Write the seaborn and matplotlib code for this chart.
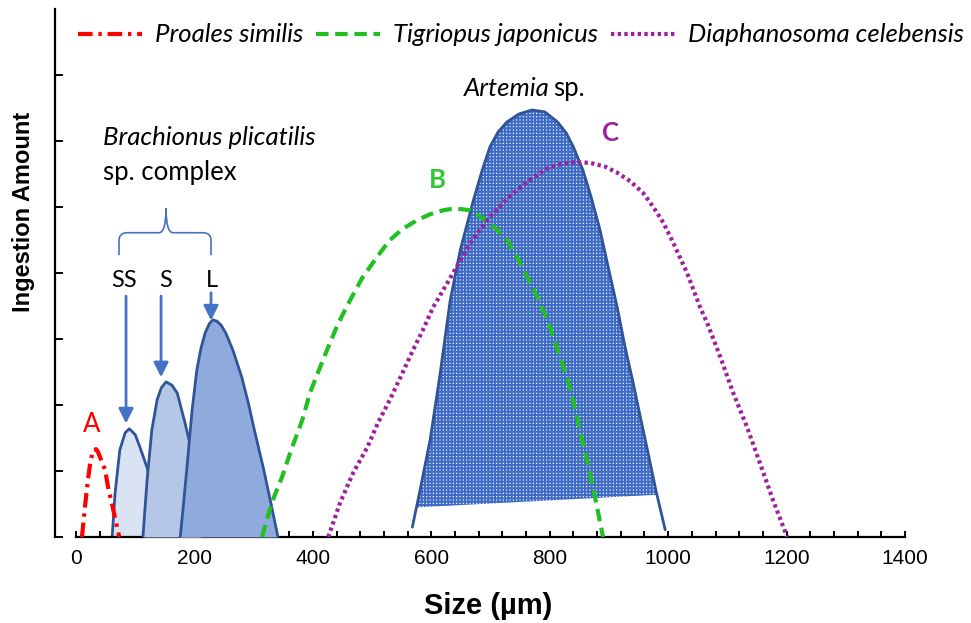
import numpy as np
import matplotlib
matplotlib.use("Agg")
import matplotlib.pyplot as plt
import seaborn as sns
from matplotlib.lines import Line2D
from matplotlib.path import Path
from matplotlib.patches import PathPatch
from matplotlib.ticker import MultipleLocator

# size (µm) and ingestion amount (arbitrary units)
proales_x = [10, 15, 20, 24, 29, 34, 37, 49, 54, 62, 73]
proales_y = [0, 0.45, 0.86, 1.12, 1.32, 1.33, 1.29, 1.02, 0.76, 0.45, 0]

ss_x = [61, 66, 74, 83, 90, 100, 108, 120, 130, 142]
ss_y = [0, 0.67, 1.32, 1.58, 1.64, 1.55, 1.36, 1.05, 0.71, 0]

s_x = [113, 120, 128, 137, 144, 152, 162, 171, 184, 193, 210]
s_y = [0, 0.86, 1.62, 2.08, 2.26, 2.35, 2.30, 2.18, 1.73, 1.39, 0]

l_x = [176, 181, 188, 196, 204, 211, 218, 225, 231, 238, 245, 253, 265, 280, 291, 302, 316, 329, 341]
l_y = [0, 0.45, 1.12, 1.92, 2.53, 2.86, 3.09, 3.23, 3.29, 3.27, 3.21, 3.09, 2.83, 2.42, 2.03, 1.59, 1.06, 0.52, 0]

tigriopus_x = [314, 331, 348, 365, 382, 395, 409, 426, 443, 463, 483, 508, 530, 552, 576, 598, 620,
               640, 666, 699, 728, 745, 762, 779, 796, 807, 823, 835, 846, 856, 868, 880, 890]
tigriopus_y = [0, 0.53, 0.91, 1.36, 1.77, 2.18, 2.50, 2.88, 3.24, 3.59, 3.92, 4.24, 4.50, 4.67, 4.80, 4.89, 4.95,
               4.98, 4.95, 4.76, 4.50, 4.24, 3.94, 3.64, 3.29, 3.00, 2.58, 2.23, 1.82, 1.42, 0.97, 0.45, 0]

diaph_x = [426, 446, 468, 492, 510, 530, 551, 569, 586, 603, 622, 640, 666, 696, 733, 772, 801,
           835, 868, 894, 914, 936, 958, 975, 992, 1009, 1032, 1054, 1066, 1088, 1110, 1133, 1155, 1177, 1201]
diaph_y = [0, 0.52, 0.97, 1.36, 1.73, 2.08, 2.48, 2.83, 3.14, 3.48, 3.77, 4.05, 4.45, 4.82, 5.17, 5.45, 5.61,
           5.68, 5.67, 5.61, 5.52, 5.39, 5.21, 5.00, 4.76, 4.45, 4.00, 3.48, 3.24, 2.73, 2.18, 1.67, 1.12, 0.56, 0]

artemia_x = [568, 581, 598, 615, 632, 649, 671, 686, 699, 713, 728, 748, 770, 792, 813, 828, 840,
             856, 870, 885, 899, 914, 927, 941, 953, 965, 980, 995]
artemia_y = [0.15, 0.71, 1.47, 2.48, 3.59, 4.35, 5.10, 5.56, 5.91, 6.14, 6.29, 6.41, 6.47, 6.44, 6.29, 6.12, 5.91,
             5.56, 5.15, 4.65, 4.08, 3.48, 2.89, 2.33, 1.82, 1.32, 0.68, 0.11]
# lower edge of the shaded part of the Artemia curve
artemia_floor_x = [578, 980]
artemia_floor_y = [0.45, 0.64]

x_ticks = [0, 200, 400, 600, 800, 1000, 1200, 1400]

RED = "#ff0000"
GREEN = "#22bf22"
PURPLE = "#a0209f"
EDGE = "#2f5597"
ARROW = "#4472c4"
BODY = "Lato"
FS = 18.5

sns.set_theme(style="ticks")
plt.rcParams["font.family"] = ["Liberation Sans", "DejaVu Sans"]
plt.rcParams["hatch.linewidth"] = 1.4
plt.rcParams["text.color"] = "black"
plt.rcParams["axes.labelcolor"] = "black"
plt.rcParams["xtick.labelcolor"] = "black"

fig = plt.figure(figsize=(9.71, 6.23), dpi=100)
ax = fig.add_axes([55 / 971, 1 - 537 / 623, 850 / 971, 528 / 623])

# Brachionus strains, drawn back to front so each covers the previous one
fills = [(ss_x, ss_y, "#dae3f3"), (s_x, s_y, "#b4c7e7"), (l_x, l_y, "#8faadc")]
z = 2
for xs, ys, fc in fills:
    ax.fill_between(xs, ys, 0, color=fc, linewidth=0, zorder=z)
    sns.lineplot(x=xs, y=ys, ax=ax, color=EDGE, linewidth=2, zorder=z + 0.5, legend=False)
    z += 1

# Artemia sp.
art_x = np.array(artemia_x, dtype=float)
art_y = np.array(artemia_y, dtype=float)
floor = np.interp(art_x, artemia_floor_x, artemia_floor_y)
ax.fill_between(art_x, art_y, floor, where=art_y >= floor, interpolate=True,
                facecolor="#e6edf9", edgecolor="#3d6bc6", hatch="+++++", linewidth=0, zorder=5)
sns.lineplot(x=artemia_x, y=artemia_y, ax=ax, color=EDGE, linewidth=2, zorder=6, legend=False)

red_ls = (0, (3.5, 1.4, 0.8, 1.4))
green_ls = (0, (3, 1.6))
purple_ls = (0, (0.8, 0.8))

sns.lineplot(x=proales_x, y=proales_y, ax=ax, color=RED, linewidth=3, linestyle=red_ls, zorder=7, legend=False)
sns.lineplot(x=tigriopus_x, y=tigriopus_y, ax=ax, color=GREEN, linewidth=3, linestyle=green_ls, zorder=7, legend=False)
sns.lineplot(x=diaph_x, y=diaph_y, ax=ax, color=PURPLE, linewidth=3, linestyle=purple_ls, zorder=7, legend=False)

# axes styling
ax.set_xlim(-35.5, 1400)
ax.set_ylim(0, 8)
ax.spines[["top", "right"]].set_visible(False)
ax.spines["bottom"].set_bounds(0, 1400)
for sp in ax.spines.values():
    sp.set_linewidth(1.6)
    sp.set_color("black")
ax.set_xticks(x_ticks)
ax.xaxis.set_minor_locator(MultipleLocator(40))
ax.set_yticks(range(8))
ax.set_yticklabels([])
ax.tick_params(axis="x", which="both", direction="in", length=4, width=1.4, color="black",
               labelsize=15, pad=9, labelcolor="black")
ax.tick_params(axis="y", direction="in", length=6, width=1.4, color="black")
ax.set_xlabel("Size (µm)", fontsize=21, fontweight="bold", color="black")
ax.xaxis.set_label_coords(0.51, -0.105)
ax.set_ylabel("Ingestion Amount", fontsize=17, fontweight="bold", color="black")
ax.yaxis.set_label_coords(-0.024, 0.615)

# annotations
ax.text(46, 6.06, "Brachionus plicatilis", family=BODY, style="italic", fontsize=FS, va="center")
ax.text(46, 5.52, "sp. complex", family=BODY, fontsize=FS, va="center")
ax.text(799, 6.80, "Artemia", family=BODY, style="italic", fontsize=FS, ha="right", va="center")
ax.text(806, 6.80, "sp.", family=BODY, fontsize=FS, ha="left", va="center")
ax.text(27, 1.70, "A", family=BODY, fontsize=FS, color=RED, ha="center", va="center")
ax.text(611, 5.41, "B", family=BODY, fontsize=FS, fontweight="bold", color="#33c633", ha="center", va="center")
ax.text(902, 6.12, "C", family=BODY, fontsize=FS, fontweight="bold", color=PURPLE, ha="center", va="center")
for lab, x in [("SS", 81), ("S", 152), ("L", 230)]:
    ax.text(x, 3.89, lab, family=BODY, fontsize=17, ha="center", va="center")
for x, y0, y1 in [(84.5, 3.65, 1.72), (143.6, 3.65, 2.42), (228, 3.70, 3.28)]:
    ax.annotate("", xy=(x, y1), xytext=(x, y0),
                arrowprops=dict(arrowstyle="-|>", color=ARROW, lw=2, mutation_scale=22,
                                shrinkA=0, shrinkB=0))

# curly bracket over the three strains
verts = [(72.6, 4.27), (72.6, 4.49), (72.6, 4.61), (86, 4.61), (140, 4.61),
         (152, 4.61), (152, 4.98), (152, 4.61), (164, 4.61), (214.6, 4.61),
         (228, 4.61), (228, 4.49), (228, 4.27)]
codes = [Path.MOVETO, Path.LINETO, Path.CURVE3, Path.CURVE3, Path.LINETO,
         Path.CURVE3, Path.CURVE3, Path.CURVE3, Path.CURVE3, Path.LINETO,
         Path.CURVE3, Path.CURVE3, Path.LINETO]
ax.add_patch(PathPatch(Path(verts, codes), fill=False, edgecolor=ARROW, lw=1.2))

handles = [Line2D([], [], color=RED, lw=3, linestyle=red_ls),
           Line2D([], [], color=GREEN, lw=3, linestyle=green_ls),
           Line2D([], [], color=PURPLE, lw=3, linestyle=purple_ls)]
labels = ["Proales similis", "Tigriopus japonicus", "Diaphanosoma celebensis"]
leg = fig.legend(handles, labels, loc="center left", bbox_to_anchor=(78 / 971, 1 - 35 / 623),
                 ncol=3, frameon=False, borderpad=0, borderaxespad=0, handlelength=2.5,
                 handletextpad=0.5, columnspacing=0.5, prop={"family": BODY, "style": "italic", "size": FS})
for t in leg.get_texts():
    t.set_color("black")

fig.savefig("out.png", dpi=100)
